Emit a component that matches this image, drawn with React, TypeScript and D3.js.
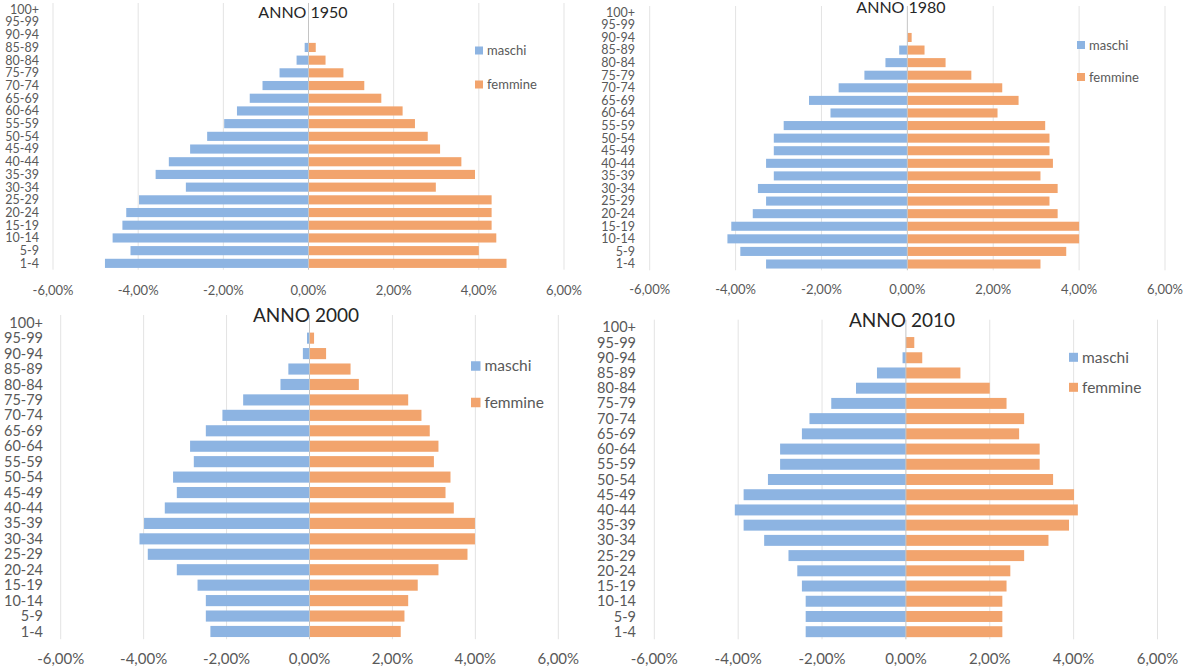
import React from "react";
import * as d3 from "d3";

// Age classes, listed from the bottom of each pyramid to the top
const ages = [
  "1-4", "5-9", "10-14", "15-19", "20-24", "25-29", "30-34", "35-39", "40-44",
  "45-49", "50-54", "55-59", "60-64", "65-69", "70-74", "75-79", "80-84",
  "85-89", "90-94", "95-99", "100+",
];

// Share of total population (%), same order as ages
const maschi1950 = [4.78, 4.18, 4.6, 4.37, 4.28, 3.98, 2.88, 3.59, 3.28, 2.78, 2.38, 1.98, 1.68, 1.38, 1.08, 0.68, 0.28, 0.09, 0, 0, 0];
const femmine1950 = [4.65, 4.0, 4.41, 4.3, 4.3, 4.3, 2.99, 3.91, 3.59, 3.09, 2.8, 2.5, 2.21, 1.71, 1.31, 0.82, 0.4, 0.17, 0, 0, 0];

const maschi1980 = [3.29, 3.89, 4.19, 4.1, 3.6, 3.29, 3.48, 3.11, 3.29, 3.11, 3.11, 2.88, 1.79, 2.29, 1.6, 1.0, 0.51, 0.19, 0, 0, 0];
const femmine1980 = [3.1, 3.7, 4.0, 4.0, 3.5, 3.31, 3.5, 3.1, 3.39, 3.31, 3.31, 3.21, 2.1, 2.59, 2.21, 1.49, 0.89, 0.4, 0.1, 0, 0];

const maschi2000 = [2.39, 2.5, 2.5, 2.7, 3.2, 3.9, 4.1, 3.99, 3.49, 3.2, 3.29, 2.79, 2.88, 2.5, 2.1, 1.6, 0.7, 0.51, 0.16, 0.06, 0];
const femmine2000 = [2.2, 2.29, 2.38, 2.61, 3.11, 3.81, 3.99, 3.99, 3.48, 3.28, 3.4, 3.0, 3.11, 2.9, 2.7, 2.38, 1.19, 0.99, 0.4, 0.11, 0];

const maschi2010 = [2.39, 2.39, 2.39, 2.48, 2.59, 2.8, 3.38, 3.87, 4.08, 3.87, 3.29, 3.0, 3.0, 2.48, 2.3, 1.78, 1.19, 0.69, 0.08, 0, 0];
const femmine2010 = [2.3, 2.3, 2.3, 2.4, 2.49, 2.82, 3.4, 3.89, 4.1, 4.01, 3.51, 3.19, 3.19, 2.7, 2.82, 2.4, 2.0, 1.3, 0.39, 0.2, 0];

const years = ["1950", "1980", "2000", "2010"];
const seriesNames = ["maschi", "femmine"];
const xTicks = [-6, -4, -2, 0, 2, 4, 6];

const dataByYear: Record<string, { maschi: number[]; femmine: number[] }> = {
  "1950": { maschi: maschi1950, femmine: femmine1950 },
  "1980": { maschi: maschi1980, femmine: femmine1980 },
  "2000": { maschi: maschi2000, femmine: femmine2000 },
  "2010": { maschi: maschi2010, femmine: femmine2010 },
};

// Layout of each small multiple
interface PanelLayout {
  xL: number; xR: number;        // pixel positions of -6% and +6%
  top: number; bottom: number;   // vertical extent of the category band
  tickY: number;
  titleX: number; titleY: number; titleSize: number;
  labelRight: number; labelSize: number; tickSize: number;
  legendX: number; legendY: number[]; legendSize: number; swatch: number;
}

const layouts: Record<string, PanelLayout> = {
  "1950": {
    xL: 53, xR: 564, top: 3, bottom: 269.7, tickY: 290,
    titleX: 303, titleY: 12, titleSize: 16,
    labelRight: 39, labelSize: 12.5, tickSize: 13,
    legendX: 475, legendY: [50.5, 84.5], legendSize: 13, swatch: 8,
  },
  "1980": {
    xL: 649.7, xR: 1165, top: 6, bottom: 270.3, tickY: 289.5,
    titleX: 901, titleY: 7, titleSize: 16,
    labelRight: 635, labelSize: 12.5, tickSize: 13,
    legendX: 1077, legendY: [45, 77], legendSize: 13, swatch: 8,
  },
  "2000": {
    xL: 60.7, xR: 558.3, top: 315, bottom: 639.2, tickY: 659,
    titleX: 306, titleY: 315, titleSize: 19,
    labelRight: 43, labelSize: 14.5, tickSize: 15,
    legendX: 471, legendY: [366, 402.5], legendSize: 15.5, swatch: 9.5,
  },
  "2010": {
    xL: 654.3, xR: 1157.5, top: 319.7, bottom: 639.3, tickY: 659,
    titleX: 902, titleY: 320.5, titleSize: 19,
    labelRight: 636, labelSize: 14.5, tickSize: 15,
    legendX: 1069, legendY: [357.3, 387.3], legendSize: 15.5, swatch: 9,
  },
};

const colors: Record<string, string> = { maschi: "#8db4e2", femmine: "#f2a46d" };
const FONT = "Lato, 'Open Sans', sans-serif";
const fmtPct = (v: number) => v.toFixed(2).replace(".", ",") + "%";

function Pyramid({ year }: { year: string }) {
  const L = layouts[year];
  const d = dataByYear[year];
  const x = d3.scaleLinear().domain([-6, 6]).range([L.xL, L.xR]);
  const y = d3
    .scaleBand<string>()
    .domain([...ages].reverse())
    .range([L.top, L.bottom])
    .paddingInner(0.28)
    .paddingOuter(0.14);
  const bh = y.bandwidth();
  const x0 = x(0);

  return (
    <g>
      {/* vertical gridlines */}
      {xTicks.filter((t) => t !== 0).map((t) => (
        <line key={t} x1={x(t)} x2={x(t)} y1={L.top} y2={L.bottom} stroke="#e3e3e3" strokeWidth={1} />
      ))}
      {/* bars */}
      {ages.map((a, i) => {
        const yy = y(a) as number;
        const m = d.maschi[i];
        const f = d.femmine[i];
        return (
          <g key={a}>
            {m > 0 && (
              <rect x={x(-m)} y={yy} width={x0 - x(-m)} height={bh} fill={colors.maschi} />
            )}
            {f > 0 && (
              <rect x={x0} y={yy} width={x(f) - x0} height={bh} fill={colors.femmine} />
            )}
          </g>
        );
      })}
      {/* zero axis */}
      <line x1={x0} x2={x0} y1={L.top} y2={L.bottom} stroke="#c4c4c4" strokeWidth={1} />
      {/* category labels */}
      {ages.map((a) => (
        <text
          key={a}
          x={L.labelRight}
          y={(y(a) as number) + bh / 2}
          dy="0.35em"
          textAnchor="end"
          fontSize={L.labelSize}
          fill="#595959"
          fontFamily={FONT}
        >
          {a}
        </text>
      ))}
      {/* tick labels */}
      {xTicks.map((t) => (
        <text
          key={t}
          x={x(t)}
          y={L.tickY}
          dy="0.35em"
          textAnchor="middle"
          fontSize={L.tickSize}
          fill="#595959"
          fontFamily={FONT}
        >
          {fmtPct(t)}
        </text>
      ))}
      {/* title */}
      <text
        x={L.titleX}
        y={L.titleY}
        dy="0.36em"
        textAnchor="middle"
        fontSize={L.titleSize}
        fill="#262626"
        fontFamily={FONT}
      >
        {"ANNO " + year}
      </text>
      {/* legend */}
      {seriesNames.map((s, i) => (
        <g key={s}>
          <rect
            x={L.legendX}
            y={L.legendY[i] - L.swatch / 2}
            width={L.swatch}
            height={L.swatch}
            fill={colors[s]}
          />
          <text
            x={L.legendX + L.swatch + 4}
            y={L.legendY[i]}
            dy="0.35em"
            fontSize={L.legendSize}
            fill="#595959"
            fontFamily={FONT}
          >
            {s}
          </text>
        </g>
      ))}
    </g>
  );
}

export default function App() {
  return (
    <div style={{ position: "fixed", left: 0, top: 0, width: 1186, height: 670, background: "#fff" }}>
      <svg width={1186} height={670} style={{ display: "block" }}>
        <rect width={1186} height={670} fill="#fff" />
        {years.map((yr) => (
          <Pyramid key={yr} year={yr} />
        ))}
      </svg>
    </div>
  );
}
